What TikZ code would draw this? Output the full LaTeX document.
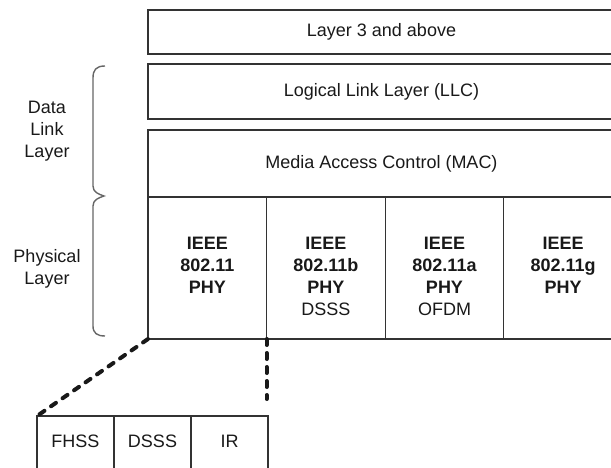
\documentclass[tikz,border=0pt]{standalone}
\usepackage{fontspec}
\setmainfont{Liberation Sans}
\usetikzlibrary{calc, positioning}

\begin{document}
\begin{tikzpicture}[x=1pt, y=-1pt,
	every node/.style={font=\fontsize{18}{22}\selectfont, text=black!90},
	box/.style={draw=black!80, line width=1.2pt, inner sep=0pt, outer sep=0pt},
	stackbox/.style={box, minimum width=467},
	phycell/.style={box, minimum width=118.6, minimum height=142},
	phytext/.style={align=center, inner sep=0pt, font=\fontsize{18}{22}\selectfont\bfseries},
	subcell/.style={box, minimum width=77, text height=31, text depth=33},
	lbl/.style={align=center},
	bracket/.style={draw=black!60, line width=1.4pt},
	zoomline/.style={draw=black!90, line width=4pt, dash pattern=on 6pt off 8pt, line cap=round}]

	\useasboundingbox (0,0) rectangle (611,468);

	% nodes - protocol stack %
	\node[stackbox, minimum height=44] (l3) at (381.5,32) {Layer 3 and above};
	\node[stackbox, minimum height=55] (llc) at (381.5,91.5) {Logical Link Layer (LLC)};
	\node[stackbox, minimum height=67] (mac) at (381.5,163.5) {Media Access Control (MAC)};

	% nodes - PHY row %
	\node[phycell] (phy1) at (207.3,268) {};
	\node[phycell, right=0pt of phy1] (phy2) {};
	\node[phycell, right=0pt of phy2] (phy3) {};
	\node[phycell, right=0pt of phy3] (phy4) {};
	\node[phytext, below=40pt of phy1.north] (t1) {IEEE\\802.11\\PHY};
	\node[phytext, below=40pt of phy2.north] (t2) {IEEE\\802.11b\\PHY\\\mdseries DSSS};
	\node[phytext, below=40pt of phy3.north] (t3) {IEEE\\802.11a\\PHY\\\mdseries OFDM};
	\node[phytext, below=40pt of phy4.north] (t4) {IEEE\\802.11g\\PHY};

	% nodes - left labels %
	\node[lbl] (dll) at (47,131) {Data\\Link\\Layer};
	\node[lbl] (pl) at (47,269) {Physical\\Layer};

	% nodes - original 802.11 PHY %
	\node[subcell] (fhss) at (75.5,448) {FHSS};
	\node[subcell, right=0pt of fhss] (dsss) {DSSS};
	\node[subcell, right=0pt of dsss] (ir) {IR};

	% brackets %
	\draw[bracket] (105,66) .. controls (96,66) and (93,70) .. (93,78) -- (93,186)
		.. controls (93,192) and (98,194) .. (104,196)
		.. controls (98,198) and (93,200) .. (93,206) -- (93,326)
		.. controls (93,333) and (97,336) .. (105,336);

	% edges %
	\coordinate[below=60pt of phy1.south east] (tail);
	\draw[zoomline] (phy1.south west) -- (fhss.north west);
	\draw[zoomline] (phy1.south east) -- (tail);

\end{tikzpicture}
\end{document}
